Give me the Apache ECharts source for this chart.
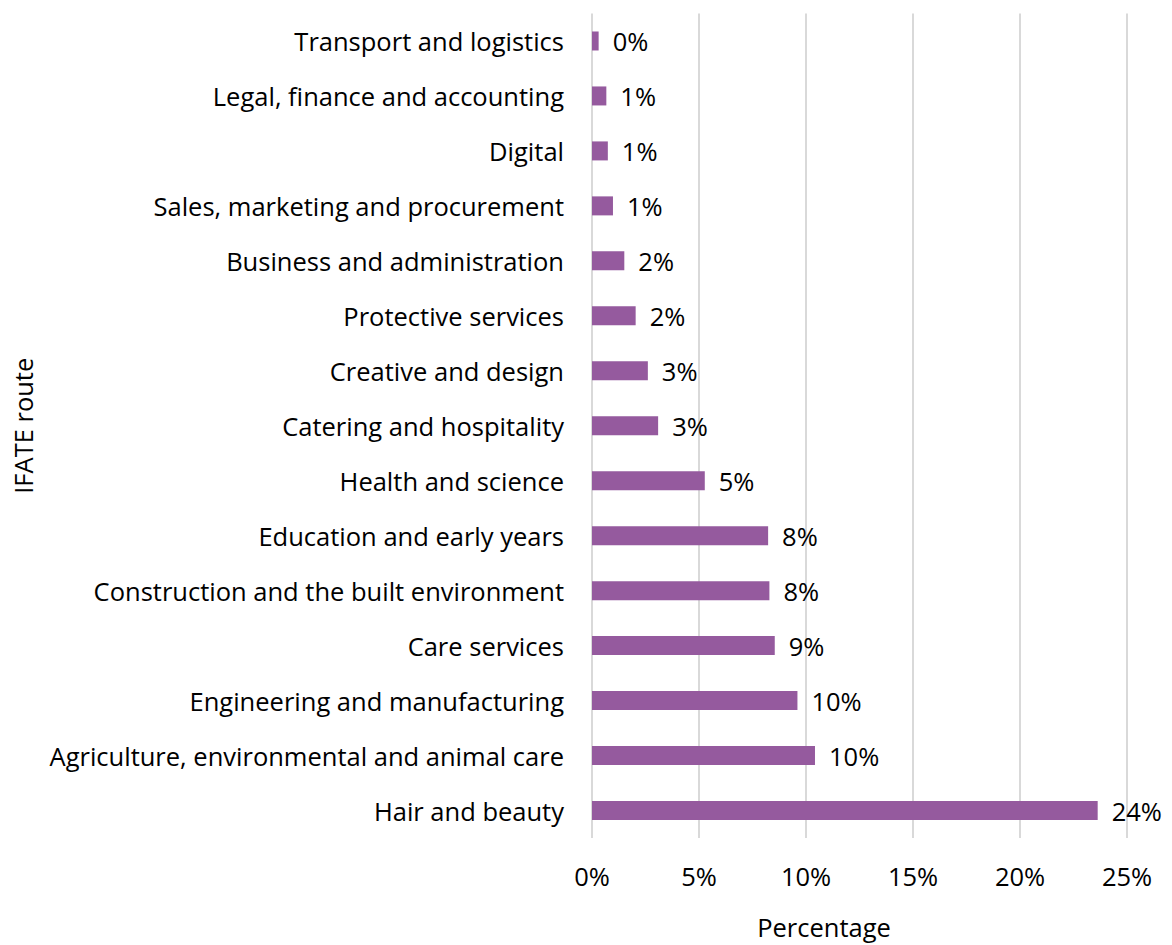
<!DOCTYPE html>
<html>
  <head>
    <meta charset="utf-8" />
    <title>IFATE route</title>
    <style>
      html,
      body {
        height: 100%;
        margin: 0;
        padding: 0;
        background: #fff;
      }
      #chart-container {
        width: 1172px;
        height: 945px;
      }
    </style>
    <script src="https://cdn.jsdelivr.net/npm/echarts@6/dist/echarts.min.js"></script>
  </head>
  <body>
    <div id="chart-container"></div>

    <script>
      // categories, bottom to top (category axis starts at the bottom)
      var routes = [
        "Hair and beauty",
        "Agriculture, environmental and animal care",
        "Engineering and manufacturing",
        "Care services",
        "Construction and the built environment",
        "Education and early years",
        "Health and science",
        "Catering and hospitality",
        "Creative and design",
        "Protective services",
        "Business and administration",
        "Sales, marketing and procurement",
        "Digital",
        "Legal, finance and accounting",
        "Transport and logistics",
      ];
      // percentage values
      var percentages = [
        23.63, 10.42, 9.6, 8.54, 8.29, 8.23, 5.27, 3.09, 2.61, 2.04, 1.51,
        0.98, 0.74, 0.67, 0.31,
      ];
      var xTicks = [0, 5, 10, 15, 20, 25];

      var font = "Open Sans";
      var fs = 25.5;

      var myChart = echarts.init(
        document.getElementById("chart-container"),
        "",
        { renderer: "svg" }
      );

      var option = {
        animation: false,
        grid: {
          left: 592,
          right: 45,
          top: 13.5,
          bottom: 104.5,
          containLabel: false,
        },
        xAxis: {
          type: "value",
          min: xTicks[0],
          max: xTicks[xTicks.length - 1],
          interval: 5,
          name: "Percentage",
          nameLocation: "middle",
          nameGap: 76,
          nameTextStyle: {
            fontFamily: font,
            fontSize: fs,
            color: "#000",
            padding: [0, 71, 0, 0],
          },
          axisLine: { show: false },
          axisTick: { show: false },
          axisLabel: {
            fontFamily: font,
            fontSize: fs,
            color: "#000",
            margin: 25,
            formatter: function (v) {
              return v + "%";
            },
          },
          splitLine: {
            show: true,
            lineStyle: { color: "#d9d9d9", width: 2 },
          },
        },
        yAxis: {
          type: "category",
          data: routes,
          name: "IFATE route",
          nameLocation: "middle",
          nameGap: 556,
          nameTextStyle: {
            fontFamily: font,
            fontSize: fs,
            color: "#000",
          },
          axisLine: { show: false },
          axisTick: { show: false },
          axisLabel: {
            fontFamily: font,
            fontSize: fs,
            color: "#000",
            margin: 28,
          },
        },
        series: [
          {
            type: "bar",
            data: percentages,
            barWidth: 19,
            itemStyle: { color: "#955a9e" },
            label: {
              show: true,
              position: "right",
              distance: 14,
              fontFamily: font,
              fontSize: fs,
              color: "#000",
              formatter: function (p) {
                return Math.round(p.value) + "%";
              },
            },
          },
        ],
      };
      myChart.setOption(option);
    </script>
  </body>
</html>
